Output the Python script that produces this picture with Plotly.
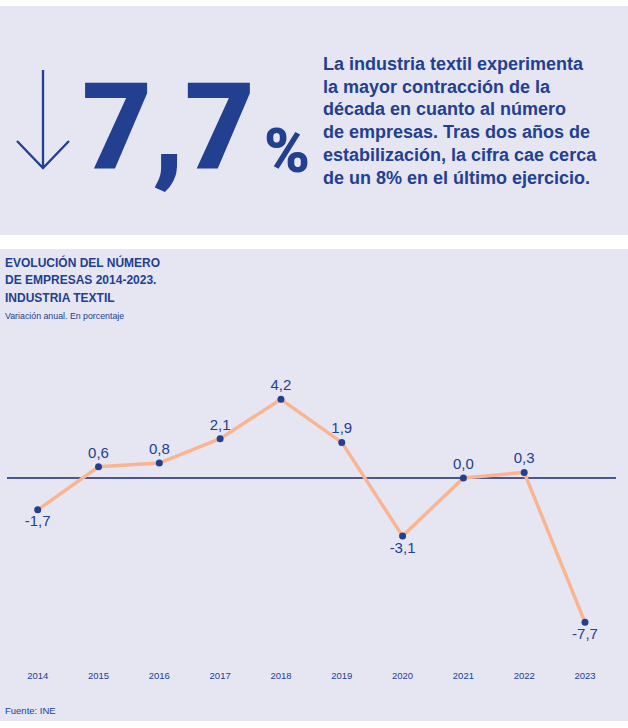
import plotly.graph_objects as go

years = [2014, 2015, 2016, 2017, 2018, 2019, 2020, 2021, 2022, 2023]
variation = [-1.7, 0.6, 0.8, 2.1, 4.2, 1.9, -3.1, 0.0, 0.3, -7.7]

headline_value = "7,7"
headline_text = [
    "La industria textil experimenta",
    "la mayor contracción de la",
    "década en cuanto al número",
    "de empresas. Tras dos años de",
    "estabilización, la cifra cae cerca",
    "de un 8% en el último ejercicio.",
]
chart_title = ["EVOLUCIÓN DEL NÚMERO", "DE EMPRESAS 2014-2023.", "INDUSTRIA TEXTIL"]
chart_subtitle = "Variación anual. En porcentaje"
source = "Fuente: INE"

W, H = 628, 728
NAVY = "#22408f"
PEACH = "#f9b591"
LAVENDER = "#e6e6f3"
SANS = "Liberation Sans, Arial, sans-serif"
HEAVY = "Roboto, Liberation Sans, sans-serif"


def px(x):
    return x / W


def py(y):
    return 1 - y / H


def text_at(text, x, baseline, size, bold=False, xanchor="left", family=SANS, weight=None):
    # vertical centre of the text box sits about 0.35em above the baseline
    font = dict(family=family, size=size, color=NAVY)
    if weight:
        font["weight"] = weight
    elif bold:
        text = f"<b>{text}</b>"
    return dict(
        text=text, x=px(x), y=py(baseline - 0.35 * size),
        xref="paper", yref="paper", xanchor=xanchor, yanchor="middle",
        showarrow=False, font=font,
    )


labels = [f"{v:.1f}".replace(".", ",") for v in variation]
positions = ["top center" if v >= 0 else "bottom center" for v in variation]

fig = go.Figure()
fig.add_trace(
    go.Scatter(
        x=years,
        y=variation,
        mode="lines+markers+text",
        line=dict(color=PEACH, width=3.5),
        marker=dict(color=NAVY, size=7),
        text=labels,
        textposition=positions,
        textfont=dict(family=SANS, size=15, color=NAVY),
        hoverinfo="skip",
        showlegend=False,
    )
)

# pixel layout of the plot area: 2014 at x=37.7, 2023 at x=585, zero at y=478
x_step = (585 - 37.7) / 9
y_unit = 18.74
plot_top, plot_bottom = 340, 668
x_range = [2014 - 37.7 / x_step, 2014 + (W - 37.7) / x_step]
y_range = [(478 - plot_bottom) / y_unit, (478 - plot_top) / y_unit]

shapes = [
    dict(type="rect", xref="paper", yref="paper", x0=0, x1=1, y0=py(235), y1=py(6),
         fillcolor=LAVENDER, line_width=0, layer="below"),
    dict(type="rect", xref="paper", yref="paper", x0=0, x1=1, y0=py(721), y1=py(249),
         fillcolor=LAVENDER, line_width=0, layer="below"),
    dict(type="line", xref="paper", yref="y", x0=px(7), x1=px(616), y0=0, y1=0,
         line=dict(color="#172670", width=1.3), layer="below"),
    dict(type="path", xref="paper", yref="paper",
         path=(f"M {px(43)},{py(70)} L {px(43)},{py(168)} "
               f"M {px(17)},{py(141)} L {px(43)},{py(168)} L {px(69)},{py(141)}"),
         line=dict(color=NAVY, width=2.3)),
]

annotations = [
    text_at(headline_value, 80, 170, 121, family=HEAVY, weight=900),
    text_at("%", 262, 172, 62, family=HEAVY, weight=900),
]
for i, line in enumerate(headline_text):
    annotations.append(text_at(line, 321, 70 + 22.8 * i, 18, bold=True))
for i, line in enumerate(chart_title):
    annotations.append(text_at(line, 3, 266.7 + 17.5 * i, 12, bold=True))
annotations.append(text_at(chart_subtitle, 3, 319, 8.8))
annotations.append(text_at(source, 3, 714, 9.5))

fig.update_layout(
    width=W,
    height=H,
    margin=dict(l=0, r=0, t=0, b=0),
    paper_bgcolor="white",
    plot_bgcolor="rgba(0,0,0,0)",
    shapes=shapes,
    annotations=annotations,
    xaxis=dict(
        range=x_range,
        domain=[0, 1],
        tickvals=years,
        ticktext=[str(y) for y in years],
        tickfont=dict(family=SANS, size=9.5, color=NAVY),
        showgrid=False,
        zeroline=False,
        showline=False,
        ticks="",
        fixedrange=True,
    ),
    yaxis=dict(
        range=y_range,
        domain=[py(plot_bottom), py(plot_top)],
        showticklabels=False,
        showgrid=False,
        zeroline=False,
        showline=False,
        ticks="",
        fixedrange=True,
    ),
)

fig.write_html(
    "out.html",
    config={"displayModeBar": False},
    post_script="document.body.style.margin = '0';",
)
